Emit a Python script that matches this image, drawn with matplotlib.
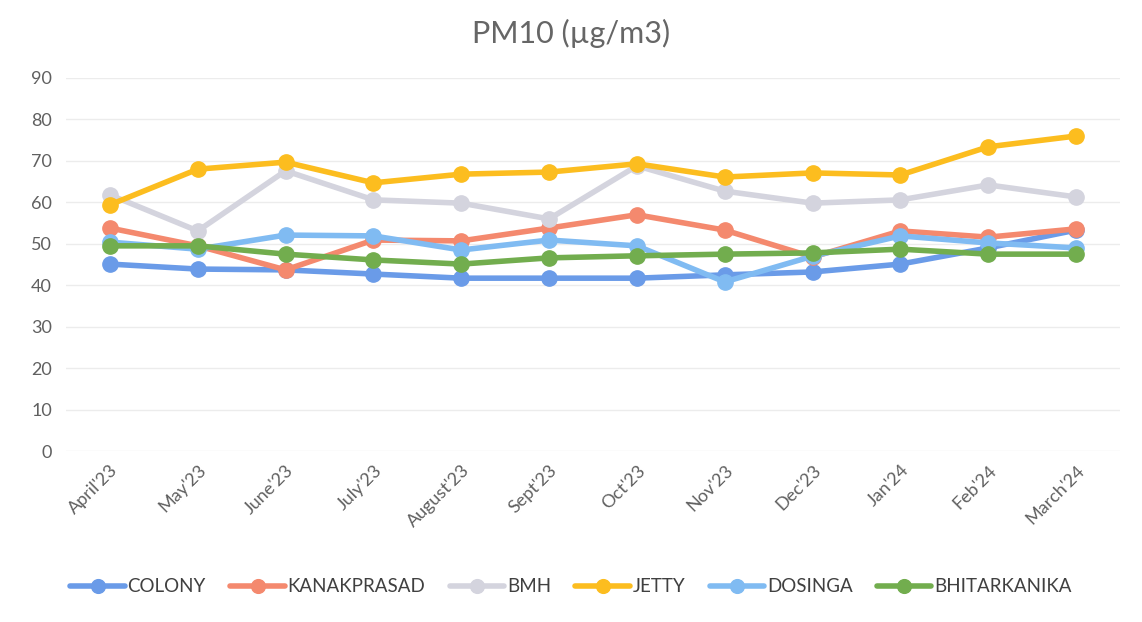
import matplotlib
matplotlib.use("Agg")
import matplotlib.pyplot as plt

months = ["April'23", "May'23", "June'23", "July'23", "August'23", "Sept'23",
          "Oct'23", "Nov'23", "Dec'23", "Jan'24", "Feb'24", "March'24"]

colony = [45.1, 43.9, 43.7, 42.7, 41.7, 41.7, 41.7, 42.5, 43.2, 45.1, 49.0, 53.3]
kanakprasad = [53.8, 49.5, 43.7, 50.9, 50.7, 53.8, 57.0, 53.3, 46.8, 53.1, 51.6, 53.6]
bmh = [61.8, 53.1, 67.6, 60.6, 59.8, 56.0, 68.8, 62.7, 59.8, 60.6, 64.2, 61.3]
jetty = [59.4, 68.0, 69.7, 64.7, 66.8, 67.3, 69.3, 66.1, 67.1, 66.6, 73.4, 76.0]
dosinga = [50.4, 48.7, 52.1, 51.9, 48.5, 50.9, 49.5, 40.8, 47.0, 51.9, 50.2, 49.0]
bhitarkanika = [49.5, 49.5, 47.5, 46.1, 45.1, 46.6, 47.1, 47.5, 47.8, 48.7, 47.5, 47.5]

series_names = ["COLONY", "KANAKPRASAD", "BMH", "JETTY", "DOSINGA", "BHITARKANIKA"]
series_vals = [colony, kanakprasad, bmh, jetty, dosinga, bhitarkanika]
colors = ["#6a9be8", "#f4896e", "#d4d4de", "#fcbd1f", "#80bbf2", "#72ad4e"]

plt.rcParams['font.family'] = ['Lato', 'DejaVu Sans']

fig = plt.figure(figsize=(11.42, 6.22), dpi=100)
ax = fig.add_axes([66/1142, 1 - 451/622, (1120-66)/1142, (451-78)/622])

x = list(range(len(months)))
for name, vals, c in zip(series_names, series_vals, colors):
    ax.plot(x, vals, color=c, lw=4, marker='o', markersize=11, label=name,
            solid_capstyle='round')

ax.set_ylim(0, 90)
ax.set_xlim(-0.5, len(months) - 0.5)
ax.set_yticks(range(0, 91, 10))
ax.set_xticks(x)
ax.set_xticklabels(months, rotation=45, ha='right', rotation_mode='anchor')
ax.tick_params(axis='both', length=0, labelsize=13, colors='#606060')
ax.tick_params(axis='y', pad=10)
ax.tick_params(axis='x', pad=8)
ax.grid(axis='y', color='#ececec', lw=1)
ax.set_axisbelow(True)
for s in ax.spines.values():
    s.set_visible(False)

fig.text(0.5, 1 - 33/622, "PM10 (\u00b5g/m3)", ha='center', va='center',
         fontsize=22, color='#666666')

leg = fig.legend(loc='center', bbox_to_anchor=(0.5, 1 - 587/622), ncol=6,
                 frameon=False, fontsize=13.5, handlelength=2.9, columnspacing=1.3,
                 handletextpad=0.15, markerscale=0.9)
for t in leg.get_texts():
    t.set_color('#404040')

fig.savefig("out.png", dpi=100)
